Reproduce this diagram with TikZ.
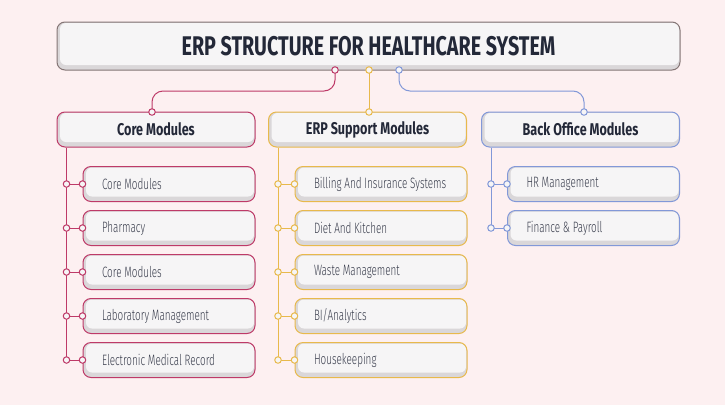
\documentclass[tikz,border=0pt]{standalone}
\usepackage{fontspec}
\setmainfont{Fira Sans}[FakeStretch=0.74]
\newfontfamily\titlefont{Fira Sans}[FakeStretch=0.73]
\newfontfamily\lightfont{Fira Sans Light}[FakeStretch=0.66]
\usetikzlibrary{positioning}

\definecolor{bgpink}{HTML}{FDF0F1}
\definecolor{boxfill}{HTML}{F6F5F6}
\definecolor{boxshade}{HTML}{DAD7D9}
\definecolor{inkdark}{HTML}{232838}
\definecolor{titleline}{HTML}{857676}
\definecolor{corecol}{HTML}{BE3A68}
\definecolor{supcol}{HTML}{E8B94C}
\definecolor{backcol}{HTML}{8298D8}

\newcommand{\itemlabel}[1]{\makebox[134pt][l]{#1}}

\tikzset{
    shadedbox/.style={rounded corners=8pt, fill=boxfill, line width=1pt,
        path picture={
            \fill[boxshade] (path picture bounding box.south west) rectangle (path picture bounding box.north east);
            \fill[boxfill, rounded corners=6pt] ([xshift=3pt,yshift=5pt]path picture bounding box.south west) rectangle ([xshift=-1pt,yshift=-1pt]path picture bounding box.north east);
        }},
    titlebox/.style={shadedbox, draw=titleline, minimum width=623pt, minimum height=48pt,
        font=\titlefont\bfseries\fontsize{27}{29}\selectfont, text=inkdark},
    headbox/.style={shadedbox, draw=#1, minimum width=198pt, minimum height=35pt,
        font=\bfseries\fontsize{17}{19}\selectfont, text=inkdark},
    itembox/.style={shadedbox, draw=#1, minimum width=172pt, minimum height=35pt,
        inner xsep=19pt, font=\lightfont\fontsize{15}{17}\selectfont, text=inkdark!90},
    knob/.style={circle, draw=#1, fill=boxfill, line width=1pt, inner sep=0pt, minimum size=6.5pt},
    wire/.style={draw=#1, line width=1pt}
}

\begin{document}
\begin{tikzpicture}[x=1pt, y=-1pt]
    \useasboundingbox[fill=bgpink] (0,0) rectangle (725,405);

    % title and column heads
    \node[titlebox] (title) at (368.5,46) {ERP STRUCTURE FOR HEALTHCARE SYSTEM};
    \node[headbox=corecol] (core) at (156,129.5) {Core Modules};
    \node[headbox=supcol] (sup) at (367.5,129.5) {ERP Support Modules};
    \node[headbox=backcol] (back) at (580.5,129.5) {Back Office Modules};

    \coordinate (tcore) at (335,70);
    \coordinate (tsup) at (369,70);
    \coordinate (tback) at (399,70);
    \coordinate (hcore) at (152,112);
    \coordinate (hsup) at (369,112);
    \coordinate (hback) at (584,112);

    \draw[wire=corecol, rounded corners=11pt] (tcore) -- (335,91) -- (152,91) -- (hcore);
    \draw[wire=supcol] (tsup) -- (hsup);
    \draw[wire=backcol, rounded corners=11pt] (tback) -- (399,91) -- (584,91) -- (hback);
    \foreach \c/\p in {corecol/tcore, supcol/tsup, backcol/tback, corecol/hcore, supcol/hsup, backcol/hback}
        \node[knob=\c] at (\p) {};

    % core modules
    \foreach \txt [count=\i] in {Core Modules, Pharmacy, Core Modules, Laboratory Management, Electronic Medical Record}
        \node[itembox=corecol] (c\i) at (169,140+44*\i) {\itemlabel{\txt}};
    % support modules
    \foreach \txt [count=\i] in {Billing And Insurance Systems, Diet And Kitchen, Waste Management, BI/Analytics, Housekeeping}
        \node[itembox=supcol] (s\i) at (381,140+44*\i) {\itemlabel{\txt}};
    % back office
    \foreach \txt [count=\i] in {HR Management, Finance \& Payroll}
        \node[itembox=backcol] (b\i) at (593.5,140+44*\i) {\itemlabel{\txt}};

    % trunks
    \draw[wire=corecol] ([xshift=10pt]core.south west) -- ([xshift=10pt]core.south west |- c5.west);
    \draw[wire=supcol] ([xshift=10pt]sup.south west) -- ([xshift=10pt]sup.south west |- s5.west);
    \draw[wire=backcol] ([xshift=10pt]back.south west) -- ([xshift=10pt]back.south west |- b2.west);
    \foreach \n in {c1,c2,c3,c4,c5} {
        \draw[wire=corecol] ([xshift=10pt]core.south west |- \n.west) -- (\n.west);
        \node[knob=corecol] at ([xshift=10pt]core.south west |- \n.west) {};
        \node[knob=corecol] at (\n.west) {};
    }
    \foreach \n in {s1,s2,s3,s4,s5} {
        \draw[wire=supcol] ([xshift=10pt]sup.south west |- \n.west) -- (\n.west);
        \node[knob=supcol] at ([xshift=10pt]sup.south west |- \n.west) {};
        \node[knob=supcol] at (\n.west) {};
    }
    \foreach \n in {b1,b2} {
        \draw[wire=backcol] ([xshift=10pt]back.south west |- \n.west) -- (\n.west);
        \node[knob=backcol] at ([xshift=10pt]back.south west |- \n.west) {};
        \node[knob=backcol] at (\n.west) {};
    }
\end{tikzpicture}
\end{document}
